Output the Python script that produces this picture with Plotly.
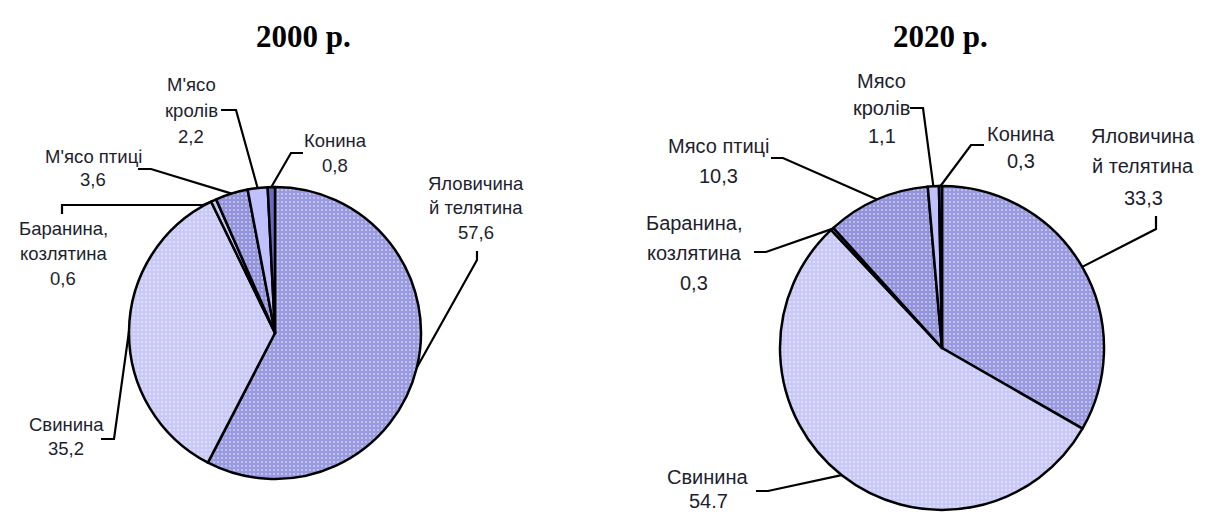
import math
import plotly.graph_objects as go

W, H = 1210, 514

# ---- data ----
categories = ["Яловичина й телятина", "Свинина", "Баранина, козлятина",
              "М'ясо птиці", "М'ясо кролів", "Конина"]
values_2000 = [57.6, 35.2, 0.6, 3.6, 2.2, 0.8]
values_2020 = [33.3, 54.7, 0.3, 10.3, 1.1, 0.3]
labels_2000 = [["Яловичина", "й телятина", "57,6"], ["Свинина", "35,2"],
               ["Баранина,", "козлятина", "0,6"], ["М'ясо птиці", "3,6"],
               ["М'ясо", "кролів", "2,2"], ["Конина", "0,8"]]
labels_2020 = [["Яловичина", "й телятина", "33,3"], ["Свинина", "54.7"],
               ["Баранина,", "козлятина", "0,3"], ["Мясо птиці", "10,3"],
               ["Мясо", "кролів", "1,1"], ["Конина", "0,3"]]
titles = ["2000 р.", "2020 р."]

# ---- style ----
colors = ["#9a9ae0", "#c9c9f8", "#c4c4f2", "#9393dc", "#c0c0ff", "#6a6ac2"]
pattern_shapes = [".", ".", ".", ".", "", ""]

# pie geometry in pixels (cx, cy, r)
geo = [(267, 325, 146), (934, 340, 162)]

# label layout: (line y positions, text center x, leader points before the attach point)
layout_2000 = [
    dict(x=468, ys=[175, 200, 224], lead=[(469, 243), (469, 252)]),
    dict(x=58, ys=[416, 440], lead=[(93, 431), (106, 431)]),
    dict(x=55, ys=[220, 245, 270], lead=[(54, 206), (54, 197), (195, 197)]),
    dict(x=85, ys=[148, 172], lead=[(130, 161), (143, 161)]),
    dict(x=183, ys=[76, 103, 128], lead=[(213, 102), (228, 102)]),
    dict(x=327, ys=[133, 157], lead=[(295, 145), (283, 145)]),
]
layout_2020 = [
    dict(x=1135, ys=[128, 158, 190], lead=[(1148, 208), (1148, 221)]),
    dict(x=700, ys=[469, 493], lead=[(748, 483), (760, 483)]),
    dict(x=686, ys=[215, 245, 275], lead=[(746, 244), (758, 244)]),
    dict(x=710, ys=[138, 168], lead=[(763, 150), (775, 150)]),
    dict(x=874, ys=[73, 100, 128], lead=[(902, 100), (915, 100)]),
    dict(x=1013, ys=[126, 153], lead=[(976, 137), (963, 137)]),
]


def px(x, y):
    return x / W, 1 - y / H


fig = go.Figure()
shapes = []
annotations = []

for i, (vals, labs, lay) in enumerate([(values_2000, labels_2000, layout_2000),
                                       (values_2020, labels_2020, layout_2020)]):
    cx, cy, r = geo[i]
    fig.add_trace(go.Pie(
        values=vals, labels=categories, sort=False, direction="clockwise",
        rotation=0, textinfo="none", hoverinfo="label+value",
        showlegend=False,
        domain=dict(x=[(cx - r) / W, (cx + r) / W], y=[1 - (cy + r) / H, 1 - (cy - r) / H]),
        marker=dict(colors=colors, line=dict(color="black", width=2.5),
                    pattern=dict(shape=pattern_shapes, bgcolor=colors, fgcolor="white",
                                 fgopacity=0.5, size=4, solidity=0.2,
                                 fillmode="replace")),
    ))
    total = sum(vals)
    cum = 0.0
    fsize = 18.5 if i == 0 else 20
    for v, lines, L in zip(vals, labs, lay):
        mid = (cum + v / 2) / total * 2 * math.pi
        cum += v
        ax = cx + r * math.sin(mid)
        ay = cy - r * math.cos(mid)
        pts = L["lead"] + [(ax, ay)]
        path = "M " + " L ".join(f"{px(x, y)[0]:.5f},{px(x, y)[1]:.5f}" for x, y in pts)
        shapes.append(dict(type="path", xref="paper", yref="paper", path=path,
                           line=dict(color="black", width=2.2)))
        for text, y in zip(lines, L["ys"]):
            xx, yy = px(L["x"], y)
            annotations.append(dict(x=xx, y=yy, xref="paper", yref="paper",
                                    text=text, showarrow=False,
                                    xanchor="center", yanchor="middle",
                                    font=dict(family="Liberation Sans, Arial", size=fsize,
                                              color="#1e1e2e")))

for t, x in zip(titles, [295, 932]):
    xx, yy = px(x, 28)
    annotations.append(dict(x=xx, y=yy, xref="paper", yref="paper", text=f"<b>{t}</b>",
                            showarrow=False, xanchor="center", yanchor="middle",
                            font=dict(family="Liberation Serif, Times New Roman", size=31,
                                      color="black")))

fig.update_layout(width=W, height=H, margin=dict(l=0, r=0, t=0, b=0),
                  paper_bgcolor="white", plot_bgcolor="white",
                  shapes=shapes, annotations=annotations)

fig.write_html("out.html")
